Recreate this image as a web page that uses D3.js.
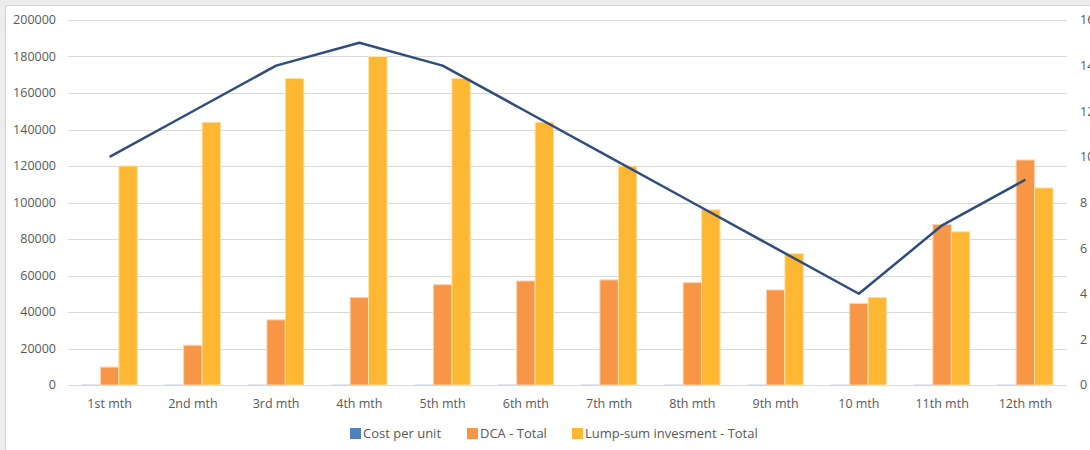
<!DOCTYPE html>
<html><head><meta charset="utf-8">
<script src="https://cdn.jsdelivr.net/npm/d3@7"></script>
<style>
html,body{margin:0;padding:0;background:#ececec;overflow:hidden;}
svg{display:block;}
text{font-family:"Open Sans",sans-serif;fill:#595959;}
</style></head>
<body>
<svg id="chart" width="1090" height="450"></svg>
<script>
const categories = ["1st mth","2nd mth","3rd mth","4th mth","5th mth","6th mth","7th mth","8th mth","9th mth","10 mth","11th mth","12th mth"];
const costPerUnit = [10,12,14,15,14,12,10,8,6,4,7,9];
const dcaTotal = [9800,21800,35700,48000,55000,57000,57600,56100,52100,44700,88000,123300];
const lumpSumTotal = [120000,144000,168000,180000,168000,144000,120000,96000,72000,48000,84000,108000];
const leftTicks = [0,20000,40000,60000,80000,100000,120000,140000,160000,180000,200000];
const rightTicks = [0,2,4,6,8,10,12,14,16];
const seriesNames = ["Cost per unit","DCA - Total","Lump-sum invesment - Total"];
const seriesColors = ["#4f81bd","#f79646","#fdb732"];
const seriesStroke = ["#c6d4ea","#fbd3b2","#fee3a9"];

const svg = d3.select("#chart");
svg.append("rect").attr("x",5.5).attr("y",5.5).attr("width",1200).attr("height",1200)
  .attr("fill","#fff").attr("stroke","#d4d4d4");

const L=68, R=1067, T=20, B=385;
const x0 = d3.scaleBand().domain(categories).range([L,R]);
const yL = d3.scaleLinear().domain([0,200000]).range([B,T]);
const yR = d3.scaleLinear().domain([0,16]).range([B,T]);
const bw = x0.bandwidth();
const groupW = bw*0.665;
const x1 = d3.scaleBand().domain(d3.range(3)).range([(bw-groupW)/2,(bw+groupW)/2]);

// gridlines
svg.append("g").selectAll("line").data(leftTicks).join("line")
  .attr("x1",L).attr("x2",R).attr("y1",d=>Math.round(yL(d))+0.5).attr("y2",d=>Math.round(yL(d))+0.5)
  .attr("stroke","#d9d9d9").attr("stroke-width",1);

// left axis labels
svg.append("g").selectAll("text").data(leftTicks).join("text")
  .attr("x",56).attr("y",d=>yL(d)).attr("dy","0.35em").attr("text-anchor","end")
  .style("font-size","12.5px").text(d=>d);

// right axis labels (clipped by the window edge, as in the reference)
svg.append("g").selectAll("text").data(rightTicks).join("text")
  .attr("x",1080).attr("y",d=>yR(d)).attr("dy","0.35em").attr("text-anchor","start")
  .style("font-size","12.5px").text(d=>d);

// bars
const seriesData = [costPerUnit, dcaTotal, lumpSumTotal];
seriesData.forEach((vals,si)=>{
  svg.append("g").selectAll("rect").data(vals).join("rect")
    .attr("x",(d,i)=>x0(categories[i])+x1(si))
    .attr("width",x1.bandwidth())
    .attr("y",d=>yL(d))
    .attr("height",d=>B-yL(d))
    .attr("fill",seriesColors[si])
    .attr("stroke",seriesStroke[si]).attr("stroke-width",1);
});

// line (secondary axis)
const line = d3.line().x((d,i)=>x0(categories[i])+bw/2).y(d=>yR(d));
svg.append("path").datum(costPerUnit).attr("d",line)
  .attr("fill","none").attr("stroke","#2f4e7d").attr("stroke-width",2.5).attr("stroke-linejoin","round");

// x labels
svg.append("g").selectAll("text").data(categories).join("text")
  .attr("x",d=>x0(d)+bw/2).attr("y",404).attr("dy","0.35em").attr("text-anchor","middle")
  .style("font-size","12.5px").text(d=>d);

// legend
const legendX = [350,467,572];
const lg = svg.append("g");
seriesNames.forEach((n,i)=>{
  lg.append("rect").attr("x",legendX[i]).attr("y",428).attr("width",11).attr("height",11).attr("fill",seriesColors[i]);
  lg.append("text").attr("x",legendX[i]+13).attr("y",433.5).attr("dy","0.35em")
    .style("font-size","13px").text(n);
});
</script>
</body></html>
